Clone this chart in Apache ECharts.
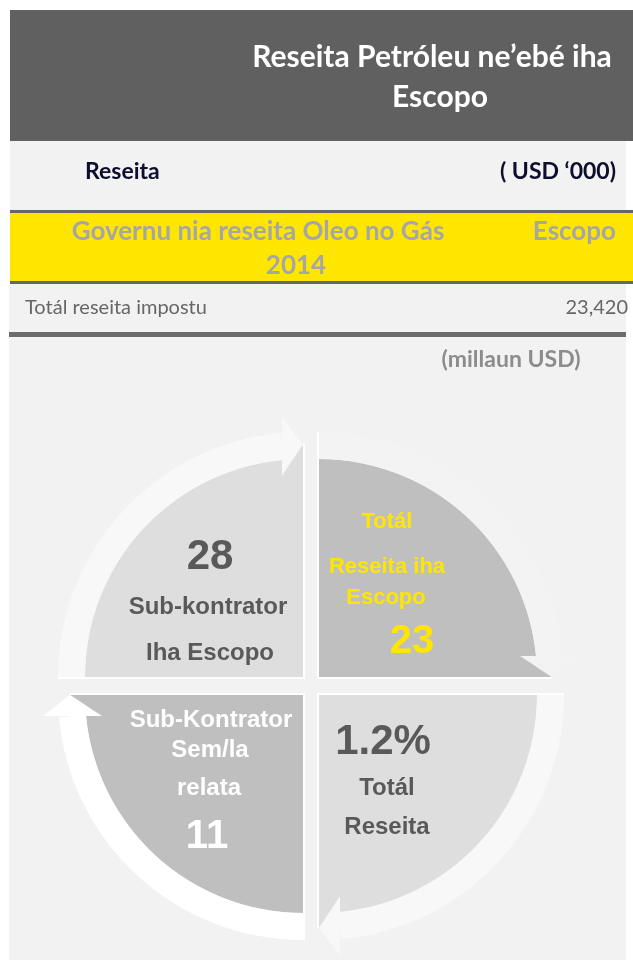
<!DOCTYPE html>
<html>
<head>
<meta charset="utf-8">
<script src="https://cdn.jsdelivr.net/npm/echarts@6/dist/echarts.min.js"></script>
<style>
  html, body { margin: 0; padding: 0; background: #ffffff; }
  #chart { width: 633px; height: 960px; }
</style>
</head>
<body>
<div id="chart"></div>
<script>
// ---------- data ----------
const titleLines = ['Reseita Petróleu ne’ebé iha', 'Escopo'];
const headerCols = ['Reseita', '( USD ‘000)'];
const bandLines = ['Governu nia reseita Oleo no Gás', '2014'];
const bandRight = 'Escopo';
const rowLabels = ['Totál reseita impostu'];
const rowValues = ['23,420'];
const unitLabel = '(millaun USD)';

// quadrants, clockwise from the top
const segmentNames = ['Totál\nReseita iha\nEscopo', 'Totál\nReseita', 'Sub-Kontrator\nSem/la\nrelata', 'Sub-kontrator\nIha Escopo'];
const segmentValues = ['23', '1.2%', '11', '28'];
const segmentStart = [0, 90, 180, 270];
const segmentSpan = [90, 90, 90, 90];

// ---------- styles / layout ----------
const fillColors = ['#bfbfbf', '#dedede', '#bfbfbf', '#dedede'];
const bandColors = ['#f3f3f3', '#f8f8f8', '#ffffff', '#f8f8f8'];
const textColors = ['#ffe600', '#595959', '#ffffff', '#595959'];
// label layout relative to each quadrant corner: value pos/size, name line positions/size
const labelLayout = [
  { value: [93, -35, 40], lines: [[68, -155], [68, -110], [67, -79]], size: 22 },
  { value: [64, 47, 42], lines: [[68, 93], [68, 132]], size: 24 },
  { value: [-96, 142, 40], lines: [[-92, 25], [-93, 55], [-94, 93]], size: 24 },
  { value: [-93, -120, 42], lines: [[-95, -70], [-93, -24]], size: 24 }
];
const R_FILL = 218, R_OUT = 245;
const TIP = 233, HEAD_IN = 201, HEAD_OUT = 260, HEAD_W = 21;
const GAP_X = 8, GAP_Y = 9;
const LAB_FONT = '"Liberation Sans", Arial, sans-serif';
const HDR_FONT = 'Lato, "Open Sans", sans-serif';

function txt(x, y, text, font, fill, align) {
  return {
    type: 'text', x: x, y: y, z: 10,
    style: { text: text, font: font, fill: fill, align: align || 'center', textAlign: align || 'center', verticalAlign: 'middle', textVerticalAlign: 'middle' }
  };
}
function rect(x, y, w, h, fill) {
  return { type: 'rect', z: 1, shape: { x: x, y: y, width: w, height: h }, style: { fill: fill } };
}

const chart = echarts.init(document.getElementById('chart'), null, { renderer: 'canvas' });

const option = {
  backgroundColor: '#ffffff',
  animation: false,
  graphic: {
    elements: [
      rect(10, 10, 623, 131, '#606060'),
      rect(10, 141, 616, 69, '#f2f2f2'),
      rect(10, 210, 623, 3, '#666666'),
      rect(10, 213, 623, 68, '#ffe600'),
      rect(10, 281, 623, 3, '#666666'),
      rect(9, 284, 617, 48, '#f2f2f2'),
      rect(9, 332, 617, 5, '#6b6b6b'),
      rect(9, 337, 617, 623, '#f2f2f2'),
      txt(432, 57, titleLines[0], 'bold 30px ' + HDR_FONT, '#ffffff'),
      txt(440, 97, titleLines[1], 'bold 30px ' + HDR_FONT, '#ffffff'),
      txt(85, 172, headerCols[0], 'bold 23px ' + HDR_FONT, '#0d0d2d', 'left'),
      txt(616, 172, headerCols[1], 'bold 23px ' + HDR_FONT, '#0d0d2d', 'right'),
      txt(258, 232, bandLines[0], 'bold 26px ' + HDR_FONT, '#a6a6a6'),
      txt(296, 266, bandLines[1], 'bold 26px ' + HDR_FONT, '#a6a6a6'),
      txt(616, 232, bandRight, 'bold 26px ' + HDR_FONT, '#a6a6a6', 'right'),
      txt(25, 308, rowLabels[0], '20px ' + HDR_FONT, '#666666', 'left'),
      txt(628, 308, rowValues[0], '20px ' + HDR_FONT, '#666666', 'right'),
      txt(511, 360, unitLabel, 'bold 23px ' + HDR_FONT, '#8c8c8c')
    ]
  },
  polar: { center: [311, 686], radius: 260 },
  angleAxis: { type: 'value', min: 0, max: 360, startAngle: 90, clockwise: true, show: false },
  radiusAxis: { type: 'value', min: 0, max: 260, show: false },
  series: [{
    type: 'custom',
    coordinateSystem: 'polar',
    z: 50,
    silent: true,
    encode: { radius: 0, angle: 1 },
    data: segmentStart.map(function (a, i) {
      return { name: segmentNames[i], value: [0, a, segmentSpan[i]] };
    }),
    renderItem: function (params, api) {
      const i = params.dataIndex;
      const a0 = api.value(1), span = api.value(2);
      const O = api.coord([0, a0]);
      const P = api.coord([100, a0]);
      const k = Math.hypot(P[0] - O[0], P[1] - O[1]) / 100;
      const t0 = Math.atan2(P[1] - O[1], P[0] - O[0]);
      const t1 = t0 + span * Math.PI / 180;
      const tm = (t0 + t1) / 2;
      const sx = Math.cos(tm) >= 0 ? 1 : -1;
      const sy = Math.sin(tm) >= 0 ? 1 : -1;
      const cx = O[0] + sx * GAP_X;
      const cy = O[1] + sy * GAP_Y;
      const u = [Math.cos(t1), Math.sin(t1)];
      const v = [Math.sin(t1), -Math.cos(t1)];
      const u0 = [Math.cos(t0), Math.sin(t0)];
      const pt = function (d, w) { return [cx + k * (d * u[0] + w * v[0]), cy + k * (d * u[1] + w * v[1])]; };
      const fill = fillColors[i], band = bandColors[i];
      const children = [
        { type: 'polyline', shape: { points: [[cx + R_OUT * k * u0[0], cy + R_OUT * k * u0[1]], [cx, cy], pt(TIP, 0)] },
          style: { stroke: '#ffffff', lineWidth: 4, fill: null } },
        { type: 'sector', shape: { cx: cx, cy: cy, r0: 0, r: R_FILL * k, startAngle: t0, endAngle: t1, clockwise: true },
          style: { fill: fill } },
        { type: 'polygon', shape: { points: [pt(190, 0), pt(190, HEAD_W), pt(HEAD_IN, HEAD_W), pt(TIP, 0)] },
          style: { fill: fill } },
        { type: 'sector', shape: { cx: cx, cy: cy, r0: R_FILL * k, r: R_OUT * k, startAngle: t0, endAngle: t1 - HEAD_W / 232, clockwise: true },
          style: { fill: band } },
        { type: 'polygon', shape: { points: [pt(HEAD_IN, HEAD_W), pt(HEAD_OUT, HEAD_W), pt(TIP, 0)] },
          style: { fill: band } }
      ];
      const L = labelLayout[i];
      const names = segmentNames[i].split('\n');
      names.forEach(function (line, j) {
        children.push({
          type: 'text', x: cx + L.lines[j][0] * k, y: cy + L.lines[j][1] * k,
          style: { text: line, fill: textColors[i], font: 'bold ' + L.size + 'px ' + LAB_FONT,
                   align: 'center', textAlign: 'center', verticalAlign: 'middle', textVerticalAlign: 'middle' }
        });
      });
      children.push({
        type: 'text', x: cx + L.value[0] * k, y: cy + L.value[1] * k,
        style: { text: segmentValues[i], fill: textColors[i], font: 'bold ' + L.value[2] + 'px ' + LAB_FONT,
                 align: 'center', textAlign: 'center', verticalAlign: 'middle', textVerticalAlign: 'middle' }
      });
      return { type: 'group', children: children };
    }
  }]
};
chart.setOption(option);
</script>
</body>
</html>
